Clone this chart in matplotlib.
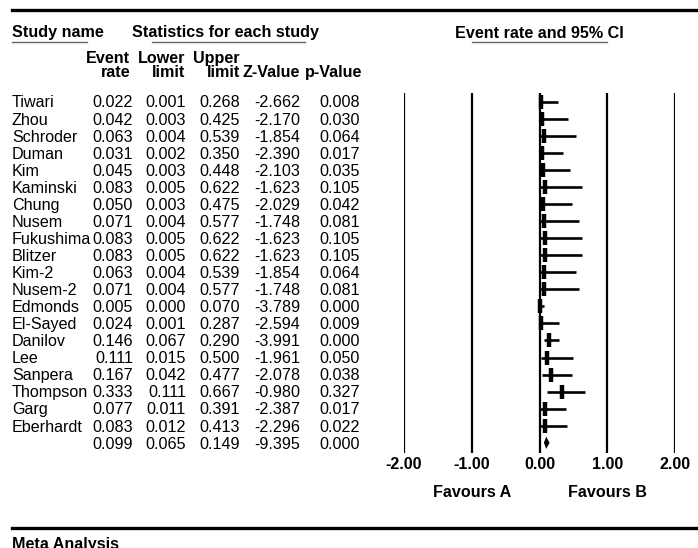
import matplotlib
matplotlib.use("Agg")
import matplotlib.pyplot as plt
from matplotlib.lines import Line2D
from matplotlib.transforms import blended_transform_factory

plt.rcParams['font.family'] = ['Liberation Sans', 'DejaVu Sans']

# data
studies = ['Tiwari', 'Zhou', 'Schroder', 'Duman', 'Kim', 'Kaminski', 'Chung',
           'Nusem', 'Fukushima', 'Blitzer', 'Kim-2', 'Nusem-2', 'Edmonds',
           'El-Sayed', 'Danilov', 'Lee', 'Sanpera', 'Thompson', 'Garg', 'Eberhardt']
event_rate = [0.022, 0.042, 0.063, 0.031, 0.045, 0.083, 0.050, 0.071, 0.083, 0.083,
              0.063, 0.071, 0.005, 0.024, 0.146, 0.111, 0.167, 0.333, 0.077, 0.083]
lower = [0.001, 0.003, 0.004, 0.002, 0.003, 0.005, 0.003, 0.004, 0.005, 0.005,
         0.004, 0.004, 0.000, 0.001, 0.067, 0.015, 0.042, 0.111, 0.011, 0.012]
upper = [0.268, 0.425, 0.539, 0.350, 0.448, 0.622, 0.475, 0.577, 0.622, 0.622,
         0.539, 0.577, 0.070, 0.287, 0.290, 0.500, 0.477, 0.667, 0.391, 0.413]
z_value = [-2.662, -2.170, -1.854, -2.390, -2.103, -1.623, -2.029, -1.748, -1.623, -1.623,
           -1.854, -1.748, -3.789, -2.594, -3.991, -1.961, -2.078, -0.980, -2.387, -2.296]
p_value = [0.008, 0.030, 0.064, 0.017, 0.035, 0.105, 0.042, 0.081, 0.105, 0.105,
           0.064, 0.081, 0.000, 0.009, 0.000, 0.050, 0.038, 0.327, 0.017, 0.022]
# pooled row
sum_rate, sum_lower, sum_upper, sum_z, sum_p = 0.099, 0.065, 0.149, -9.395, 0.000

ticks = [-2, -1, 0, 1, 2]
tick_labels = ['-2.00', '-1.00', '0.00', '1.00', '2.00']

W, H = 698, 548
FS = 11.6


def fx(x):
    return x / W


def fy(y):
    return 1 - y / H


fig = plt.figure(figsize=(W / 100, H / 100), dpi=100)

# forest panel
ax = fig.add_axes([fx(404), fy(453), fx(675) - fx(404), fy(93) - fy(453)])
ax.set_xlim(-2, 2)
ax.set_ylim(20.6, -0.51)
for s in ax.spines.values():
    s.set_visible(False)
ax.set_yticks([])
ax.set_xticks(ticks, tick_labels, fontsize=FS, fontweight='bold')
ax.tick_params(axis='x', length=0, pad=3)
for t in ticks:
    ax.axvline(t, color='black', lw=1.6)

rows = list(range(len(studies)))
for i in rows:
    ax.plot([lower[i], upper[i]], [i, i], color='black', lw=1.9, solid_capstyle='butt')
    ax.plot(event_rate[i], i, marker='|', ms=10, mew=3.2, color='black')

# pooled diamond
k = len(studies)
ax.fill([sum_lower, sum_rate, sum_upper, sum_rate], [k, k - 0.36, k, k + 0.36],
        color='black', lw=0)

# table text
tr = blended_transform_factory(fig.transFigure, ax.transData)
off = 0.34
all_names = studies + ['']
cols = [event_rate + [sum_rate], lower + [sum_lower], upper + [sum_upper],
        z_value + [sum_z], p_value + [sum_p]]
col_right = [133, 186, 240, 300, 360]
for i, name in enumerate(all_names):
    fig.text(fx(12), i + off, name, transform=tr, fontsize=FS, va='baseline', ha='left')
    for c, xr in zip(cols, col_right):
        fig.text(fx(xr), i + off, f"{c[i]:.3f}", transform=tr, fontsize=FS,
                 va='baseline', ha='right')

# headers
fig.text(fx(12), fy(37.5), 'Study name', fontsize=FS, fontweight='bold', va='baseline')
fig.text(fx(132), fy(37.5), 'Statistics for each study', fontsize=FS, fontweight='bold',
         va='baseline')
fig.text(fx(539), fy(37.5), 'Event rate and 95% CI', fontsize=FS, fontweight='bold',
         va='baseline', ha='center')
sub1 = ['Event', 'Lower', 'Upper', '', '']
sub2 = ['rate', 'limit', 'limit', 'Z-Value', 'p-Value']
sub_right = [130, 185, 240, 300, 362]
for a, b, xr in zip(sub1, sub2, sub_right):
    fig.text(fx(xr), fy(63.3), a, fontsize=FS, fontweight='bold', va='baseline', ha='right')
    fig.text(fx(xr), fy(76.7), b, fontsize=FS, fontweight='bold', va='baseline', ha='right')

# underlines and rules
for x0, x1 in [(12, 87), (152, 305), (472, 607)]:
    fig.add_artist(Line2D([fx(x0), fx(x1)], [fy(41.7), fy(41.7)], color='#666666', lw=1.0))
fig.add_artist(Line2D([fx(12), 1], [fy(9.7), fy(9.7)], color='black', lw=2.4))
fig.add_artist(Line2D([fx(12), 1], [fy(528), fy(528)], color='black', lw=2.4))

trf = blended_transform_factory(ax.transData, fig.transFigure)
fig.text(-1, fy(496.7), 'Favours A', transform=trf, fontsize=FS, fontweight='bold',
         va='baseline', ha='center')
fig.text(1, fy(496.7), 'Favours B', transform=trf, fontsize=FS, fontweight='bold',
         va='baseline', ha='center')

fig.text(fx(12), fy(548.5), 'Meta Analysis', fontsize=FS, fontweight='bold', va='baseline')

fig.savefig('out.png', dpi=100)
